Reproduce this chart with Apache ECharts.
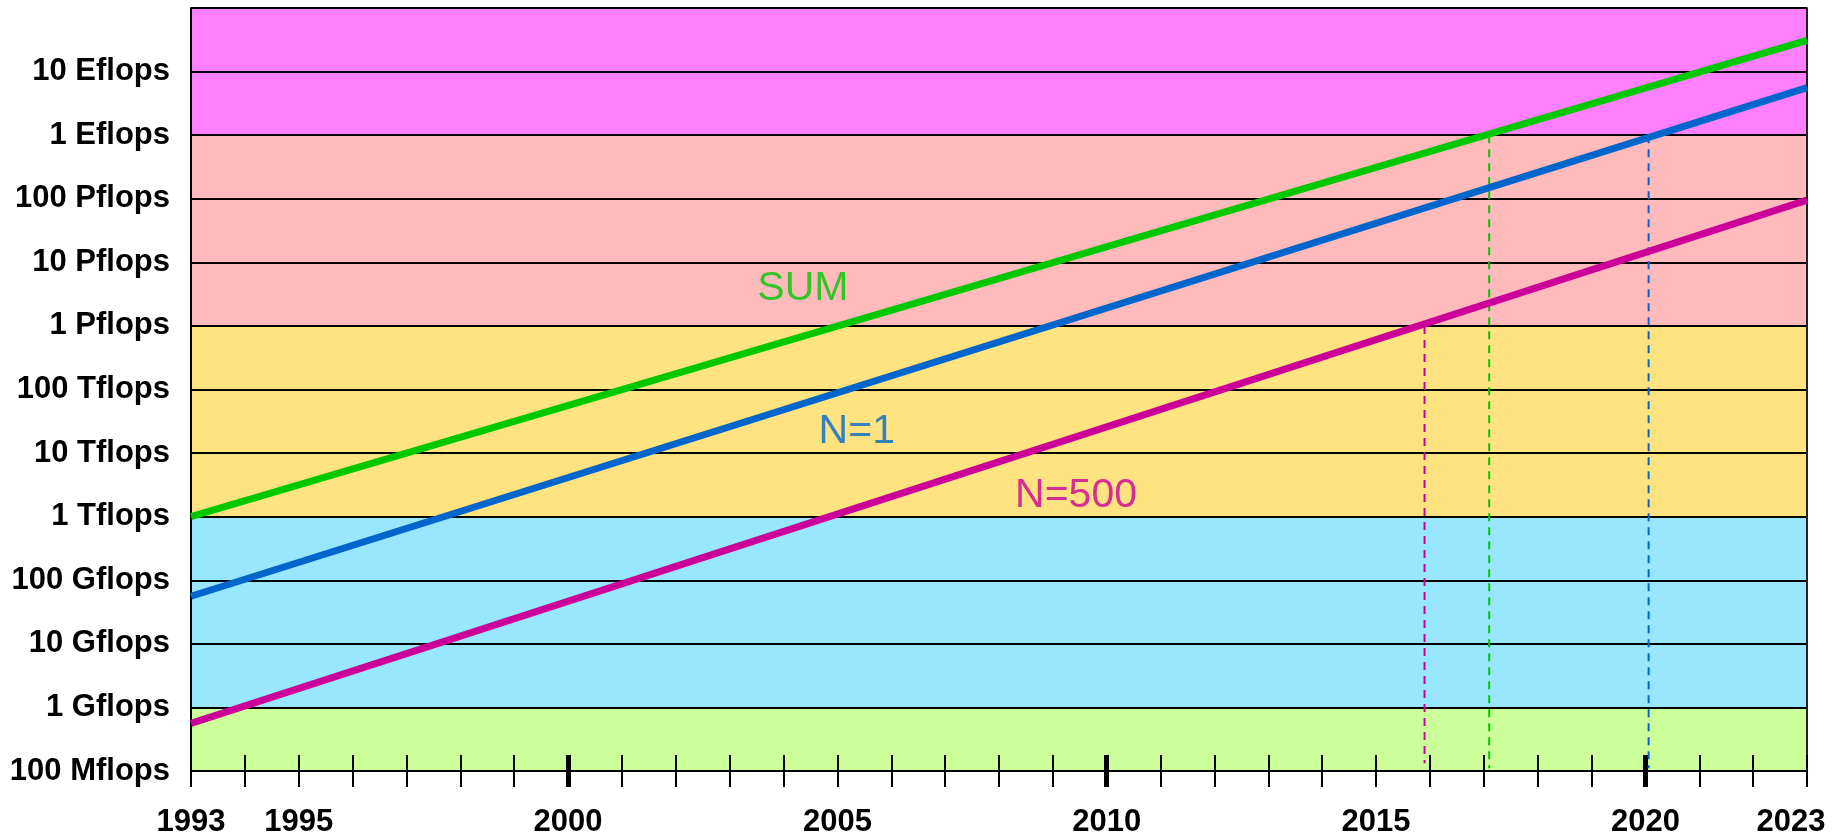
<!DOCTYPE html>
<html>
<head>
<meta charset="utf-8">
<script src="https://cdn.jsdelivr.net/npm/echarts@6/dist/echarts.min.js"></script>
<style>
html,body{margin:0;padding:0;background:#fff;}
#chart{width:1841px;height:838px;}
</style>
</head>
<body>
<div id="chart"></div>
<script>
// values (flops), straight trend lines
var years = [1993, 2023]
var sumFlops = [1.0e12, 3.1e19]
var n1Flops = [5.6e10, 5.6e18]
var n500Flops = [5.6e8, 9.5e16]

var yLabels = ['100 Mflops','1 Gflops','10 Gflops','100 Gflops','1 Tflops','10 Tflops',
  '100 Tflops','1 Pflops','10 Pflops','100 Pflops','1 Eflops','10 Eflops']
var xLabelYears = [1993,1995,2000,2005,2010,2015,2020,2023]
var decadeYears = [2000,2010,2020]

var bandEdges = [1e8,1e9,1e12,1e15,1e18,1e20]
var bandColors = ['#CCFF99','#99E6FF','#FFE380','#FFBBBB','#FF80FF']

// dashed drop lines: where each line reaches 1 Pflops / 1 Eflops
var dropYears = [2015.9, 2017.1, 2020.06]
var dropTop = [1e15, 1e18, 1e18]
var dropBottom = [1.33e8, 1.1e8, 1.1e8]

var seriesNames = ['SUM','N=1','N=500']
var labelYears = [2004.36, 2005.36, 2009.43]
var labelFlops = [3.8e15, 2.14e13, 2.14e12]

var colors = ['#00C800','#0066CC','#CC0099']
var lineData = [sumFlops, n1Flops, n500Flops]
var dropColor = ['#CC0099','#00C800','#0066CC']

var font = 'Liberation Sans, Arial, sans-serif'

var chart = echarts.init(document.getElementById('chart'), null, {renderer:'canvas'})

var bands = []
for (var i=0;i<bandColors.length;i++) {
  bands.push([{yAxis:bandEdges[i], itemStyle:{color:bandColors[i], opacity:1}}, {yAxis:bandEdges[i+1]}])
}

var series = [{
  type:'line',
  data:[],
  z:1,
  silent:true,
  markArea:{silent:true, itemStyle:{opacity:1}, data:bands}
}]

for (var k=0;k<3;k++) {
  var pts = []
  for (var j=0;j<years.length;j++) pts.push([years[j], lineData[k][j]])
  series.push({
    name:seriesNames[k], type:'line', data:pts, z:4, symbol:'none', silent:true,
    lineStyle:{color:colors[k], width:7, cap:'butt'}
  })
}
for (var d=0;d<dropYears.length;d++) {
  series.push({
    type:'line', z:3, symbol:'none', silent:true,
    data:[[dropYears[d], dropTop[d]], [dropYears[d], dropBottom[d]]],
    lineStyle:{color:dropColor[d], width:2, type:[8,6]}
  })
}
var lbl = []
for (var m=0;m<3;m++) {
  lbl.push({value:[labelYears[m], labelFlops[m]], name:seriesNames[m],
    label:{color:colors[m]}})
}
series.push({
  type:'scatter', z:5, symbolSize:0, silent:true, data:lbl,
  label:{show:true, position:'inside', formatter:'{b}', fontSize:41, fontFamily:font}
})

var baseX = {
  type:'value', min:1993, max:2023, interval:1, z:2, position:'bottom', offset:0,
  splitLine:{show:false}
}

var option = {
  animation:false,
  backgroundColor:'#fff',
  grid:{left:191, right:34, top:8, bottom:62},
  xAxis:[
    Object.assign({}, baseX, {
      axisLine:{show:true, lineStyle:{color:'#000', width:2}},
      axisTick:{show:true, length:16, inside:false, lineStyle:{color:'#000', width:2}},
      axisLabel:{show:true, customValues:xLabelYears, margin:36, color:'#000',
        fontSize:31, fontWeight:'bold', fontFamily:font,
        formatter:function(v){ return v==2023 ? '{last|2023}' : String(v) },
        rich:{last:{fontSize:31, fontWeight:'bold', fontFamily:font, color:'#000', padding:[0,32,0,0]}}}
    }),
    Object.assign({}, baseX, {
      axisLine:{show:false},
      axisTick:{show:true, length:16, inside:true, lineStyle:{color:'#000', width:2}},
      axisLabel:{show:false}
    }),
    Object.assign({}, baseX, {
      axisLine:{show:false},
      axisTick:{show:true, length:16, inside:false, customValues:decadeYears, lineStyle:{color:'#000', width:5}},
      axisLabel:{show:false}
    }),
    Object.assign({}, baseX, {
      axisLine:{show:false},
      axisTick:{show:true, length:16, inside:true, customValues:decadeYears, lineStyle:{color:'#000', width:5}},
      axisLabel:{show:false}
    })
  ],
  yAxis:[{
    type:'log', logBase:10, min:1e8, max:1e20, interval:1, z:2,
    axisLine:{show:true, lineStyle:{color:'#000', width:2}},
    axisTick:{show:false},
    splitLine:{show:true, lineStyle:{color:'#000', width:2}},
    axisLabel:{margin:21, color:'#000', fontSize:31, fontWeight:'bold', fontFamily:font,
      formatter:function(v){
        var e = Math.round(Math.log10(v)) - 8
        return yLabels[e] || ''
      }}
  },{
    type:'log', logBase:10, min:1e8, max:1e20, position:'right', z:2,
    axisLine:{show:true, lineStyle:{color:'#222', width:2}},
    axisTick:{show:false}, axisLabel:{show:false}, splitLine:{show:false}
  }],
  series:series
}
chart.setOption(option)
</script>
</body>
</html>
